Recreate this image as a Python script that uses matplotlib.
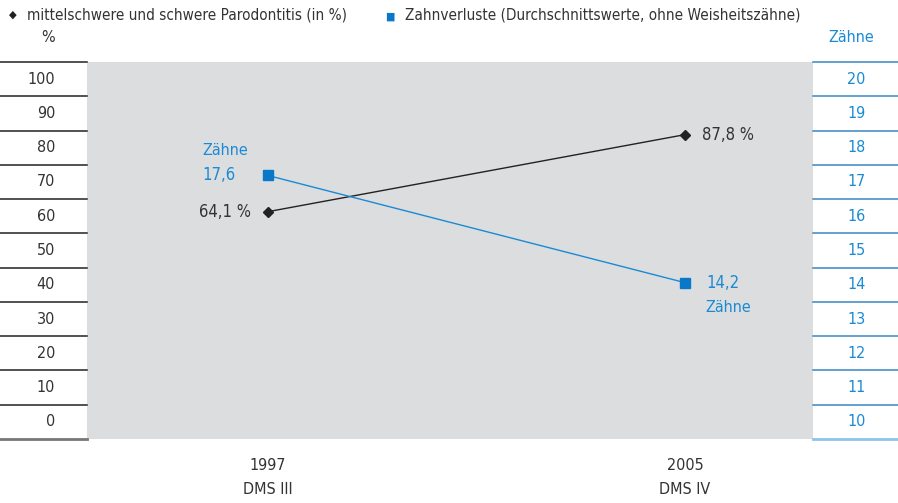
import matplotlib
matplotlib.use("Agg")
import matplotlib.pyplot as plt
import matplotlib.transforms as mtransforms

plt.rcParams['font.family'] = ['DejaVu Sans']
plt.rcParams['font.stretch'] = 'condensed'

years = ["1997", "2005"]
studies = ["DMS III", "DMS IV"]
parodontitis = [64.1, 87.8]
zahnverluste = [17.6, 14.2]
left_ticks = [0, 10, 20, 30, 40, 50, 60, 70, 80, 90, 100]
right_ticks = [10, 11, 12, 13, 14, 15, 16, 17, 18, 19, 20]

BLUE = "#1a8ad4"
MBLUE = "#0a78c8"
DARK = "#333333"
GRAY = "#dcdddf"
FS = 11.5

W, H = 898, 503
fig = plt.figure(figsize=(W / 100, H / 100), dpi=100)
x0, x1, y0, y1 = 87, 813, 62, 439
rect = [x0 / W, (H - y1) / H, (x1 - x0) / W, (y1 - y0) / H]
ax = fig.add_axes(rect)
ax.set_facecolor(GRAY)
for s in ax.spines.values():
    s.set_visible(False)
ax.set_ylim(-5, 105)
ax.set_xlim(-0.434, 1.307)
ax.set_xticks([])
ax.set_yticks([])

# data axes (scales as drawn in the original figure)
axp = fig.add_axes(rect, sharex=ax)
axp.patch.set_visible(False)
axp.set_ylim(-5.85, 110.15)
axz = fig.add_axes(rect, sharex=ax)
axz.patch.set_visible(False)
axz.set_ylim(9.24, 21.2)
for a in (axp, axz):
    a.set_yticks([])
    a.set_xticks([])
    for s in a.spines.values():
        s.set_visible(False)

trans = mtransforms.blended_transform_factory(ax.transAxes, ax.transData)
lw_left = -x0 / (x1 - x0)
rw_right = 1 + (W - x1) / (x1 - x0)
lab_right = (55 - x0) / (x1 - x0)

# left band lines and labels
for v in left_ticks:
    ax.text(lab_right, v, str(v), transform=trans, ha="right", va="center",
            fontsize=FS, color=DARK, clip_on=False)
for b in [v + 5 for v in left_ticks]:
    ax.plot([lw_left, 0], [b, b], transform=trans, color="#222222", lw=1.1, clip_on=False)
ax.plot([lw_left, 0], [-5, -5], transform=trans, color="#777777", lw=2, clip_on=False)

# right band lines and labels (teeth scale 10..20 on the same bands)
for i, v in enumerate(right_ticks):
    ax.text(1 + (rw_right - 1) / 2 + 0.001, left_ticks[i], str(v), transform=trans, ha="center",
            va="center", fontsize=FS, color=BLUE, clip_on=False)
for b in [v + 5 for v in left_ticks]:
    ax.plot([1, rw_right], [b, b], transform=trans, color="#3a86c6", lw=1.1, clip_on=False)
ax.plot([1, rw_right], [-5, -5], transform=trans, color="#8cc4ea", lw=2, clip_on=False)

# axis titles
fig.text(48 / W, 1 - 38 / H, "%", ha="center", va="center", fontsize=FS, color=DARK)
fig.text(851 / W, 1 - 38 / H, "Zähne", ha="center", va="center", fontsize=FS, color=BLUE)

# series
xs = [0, 1]
axp.plot(xs, parodontitis, color="#222222", lw=1, marker="D", ms=5, zorder=3)
axz.plot(xs, zahnverluste, color=BLUE, lw=1, marker="s", ms=6.5,
         markerfacecolor=MBLUE, markeredgecolor=MBLUE, zorder=3)

# value labels
axp.annotate("64,1 %", (xs[0], parodontitis[0]), xytext=(-12, 0), textcoords="offset points",
             ha="right", va="center", fontsize=12, color=DARK)
axp.annotate("87,8 %", (xs[1], parodontitis[1]), xytext=(12, 0), textcoords="offset points",
             ha="left", va="center", fontsize=12, color=DARK)
axz.annotate("17,6", (xs[0], zahnverluste[0]), xytext=(-47, 0), textcoords="offset points",
             ha="left", va="center", fontsize=12, color=BLUE)
axz.annotate("Zähne", (xs[0], zahnverluste[0]), xytext=(-47, 18), textcoords="offset points",
             ha="left", va="center", fontsize=FS, color=BLUE)
axz.annotate("14,2", (xs[1], zahnverluste[1]), xytext=(15, 0), textcoords="offset points",
             ha="left", va="center", fontsize=12, color=BLUE)
axz.annotate("Zähne", (xs[1], zahnverluste[1]), xytext=(15, -18), textcoords="offset points",
             ha="left", va="center", fontsize=FS, color=BLUE)

# x labels
xt = mtransforms.blended_transform_factory(ax.transData, fig.transFigure)
for x, yr, st in zip(xs, years, studies):
    ax.text(x, 1 - 466 / H, yr, transform=xt, ha="center", va="center", fontsize=FS, color=DARK)
    ax.text(x, 1 - 490 / H, st, transform=xt, ha="center", va="center", fontsize=FS, color=DARK)

# legend
fig.text(13 / W, 1 - 15 / H, "◆", ha="center", va="center", fontsize=8, color="#222222")
fig.text(27 / W, 1 - 15 / H, "mittelschwere und schwere Parodontitis (in %)", ha="left",
         va="center", fontsize=11, color=DARK)
fig.text(390 / W, 1 - 17 / H, "■", ha="center", va="center", fontsize=8, color=MBLUE)
fig.text(405 / W, 1 - 15 / H, "Zahnverluste (Durchschnittswerte, ohne Weisheitszähne)",
         ha="left", va="center", fontsize=11, color=DARK)

fig.savefig("out.png", dpi=100)
